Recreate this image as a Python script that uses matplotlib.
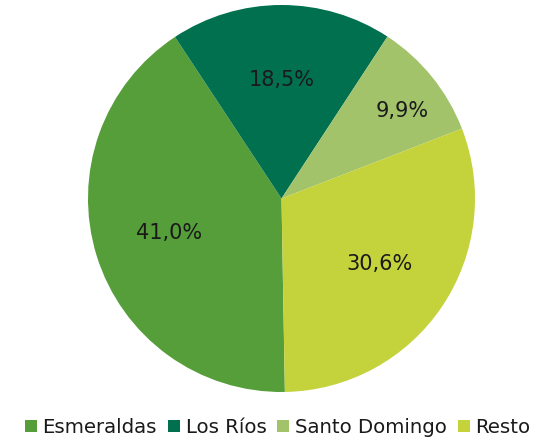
import matplotlib
matplotlib.use("Agg")
import matplotlib.pyplot as plt
import numpy as np
from matplotlib.patches import Patch

categories = ["Esmeraldas", "Los Ríos", "Santo Domingo", "Resto"]
values = [41.0, 18.5, 9.9, 30.6]
colors = ["#559E3A", "#00704F", "#A2C36A", "#C4D23C"]

plt.rcParams['font.family'] = ['DejaVu Sans']

W, H = 536, 437
fig = plt.figure(figsize=(W/100, H/100), dpi=100)
cx, cy, r = 281.5, 198.5, 193.5
ax = fig.add_axes([(cx - r)/W, (H - cy - r)/H, 2*r/W, 2*r/H])

wedges, texts, autotexts = ax.pie(values, colors=colors, startangle=-89, counterclock=False,
                                  radius=1, autopct=lambda p: f"{p:.1f}%".replace('.', ','),
                                  pctdistance=0.61, labels=None,
                                  wedgeprops=dict(edgecolor='none', linewidth=0),
                                  textprops=dict(fontsize=15, color='#1a1a1a'))
ax.set_xlim(-1, 1)
ax.set_ylim(-1, 1)
ax.set_aspect('equal')
ax.axis('off')

# Santo Domingo label sits further out
w = wedges[2]
ang = np.deg2rad((w.theta1 + w.theta2) / 2 - 3)
autotexts[2].set_position((0.77*np.cos(ang), 0.77*np.sin(ang)))

handles = [Patch(facecolor=c, edgecolor='none') for c in colors]
fig.legend(handles, categories, loc='lower center', bbox_to_anchor=(0.518, -0.04), ncol=4,
           frameon=False, fontsize=14.2, handlelength=0.6, handleheight=0.6,
           handletextpad=0.3, columnspacing=0.55, labelcolor='#1a1a1a')

fig.savefig("out.png", dpi=100)
